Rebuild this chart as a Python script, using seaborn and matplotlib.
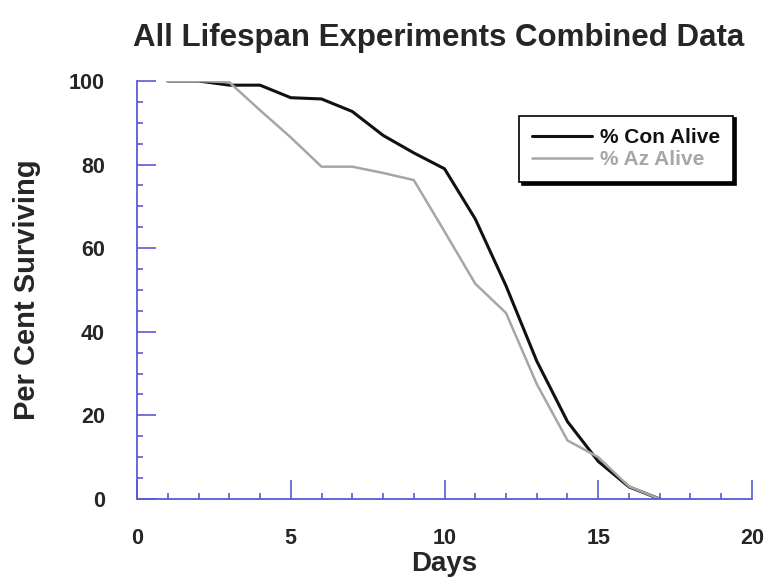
import matplotlib
matplotlib.use("Agg")
import matplotlib.pyplot as plt
import seaborn as sns
import pandas as pd
from matplotlib.ticker import MultipleLocator

days = [1, 2, 3, 4, 5, 6, 7, 8, 9, 10, 11, 12, 13, 14, 15, 16, 17]
con_alive = [100, 100, 99, 99, 96, 95.7, 92.7, 87, 82.8, 79, 67, 51, 33, 18.5, 9, 2.9, 0]
az_alive = [100, 100, 99.7, 93, 86.5, 79.5, 79.5, 78, 76.3, 64, 51.5, 44.5, 27.5, 14, 10, 3, 0]
series_names = ["% Con Alive", "% Az Alive"]

df = pd.concat([
    pd.DataFrame({"Days": days, "Value": con_alive, "Series": series_names[0]}),
    pd.DataFrame({"Days": days, "Value": az_alive, "Series": series_names[1]}),
])

sns.set_style("white")
plt.rcParams["font.family"] = ["Liberation Sans", "DejaVu Sans"]
plt.rcParams["font.weight"] = "bold"

fig = plt.figure(figsize=(7.66, 5.83), dpi=100)
ax = fig.add_axes([0.1789, 0.1441, 0.8028, 0.717])

colors = {"% Con Alive": "#111111", "% Az Alive": "#a6a6a6"}
sns.lineplot(data=df, x="Days", y="Value", hue="Series", palette=colors,
             ax=ax, legend=False)
for line, lw in zip(ax.lines, [2.2, 1.8]):
    line.set_linewidth(lw)

ax.set_xlim(0, 20)
ax.set_ylim(0, 100)
ax.xaxis.set_major_locator(MultipleLocator(5))
ax.xaxis.set_minor_locator(MultipleLocator(1))
ax.yaxis.set_major_locator(MultipleLocator(20))
ax.yaxis.set_minor_locator(MultipleLocator(5))

spine_color = "#5a5ad6"
for s in ["top", "right"]:
    ax.spines[s].set_visible(False)
for s in ["left", "bottom"]:
    ax.spines[s].set_color(spine_color)
    ax.spines[s].set_linewidth(1.3)

ax.tick_params(which="both", bottom=True, left=True, top=False, right=False)
ax.tick_params(which="major", direction="in", length=14, width=1.2, color=spine_color,
               labelsize=15.5)
ax.tick_params(which="minor", direction="in", length=4, width=1.2, color=spine_color)
ax.tick_params(axis="x", which="major", pad=21)
ax.tick_params(axis="y", which="major", pad=23)
for lab in ax.get_xticklabels() + ax.get_yticklabels():
    lab.set_fontweight("bold")

ax.set_xlabel("Days", fontsize=20, fontweight="bold", labelpad=1)
ax.set_ylabel("Per Cent Surviving", fontsize=21, fontweight="bold", labelpad=20)
fig.suptitle("All Lifespan Experiments Combined Data", fontsize=22.5, fontweight="bold",
             x=0.573, y=0.96)

handles = [plt.Line2D([], [], color=colors[n], lw=l.get_linewidth()) for n, l in zip(series_names, ax.lines)]
leg = ax.legend(handles, series_names, loc="upper right", bbox_to_anchor=(0.969, 0.917),
                prop={"size": 15, "weight": "bold"}, frameon=True, fancybox=False,
                shadow={"color": "black", "alpha": 1}, handlelength=2.9, labelspacing=0.15,
                borderpad=0.6, handletextpad=0.4, borderaxespad=0)
leg.get_frame().set_edgecolor("black")
leg.get_frame().set_linewidth(1.2)
for t, n in zip(leg.get_texts(), series_names):
    t.set_color(colors[n])

fig.savefig("out.png", dpi=100)
